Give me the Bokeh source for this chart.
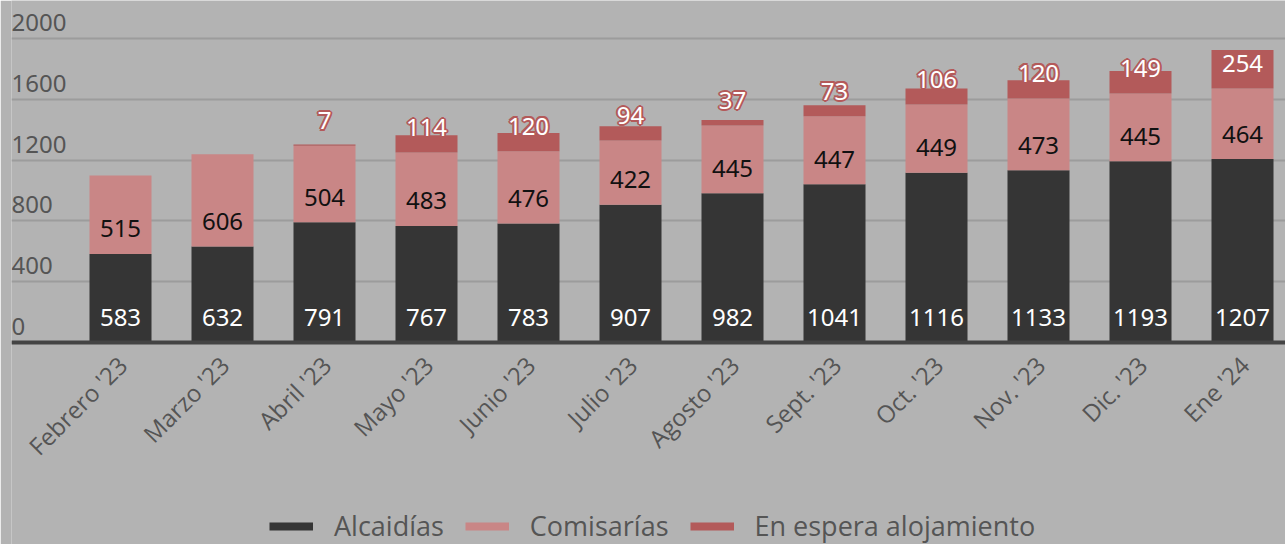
import math
from bokeh.plotting import figure
from bokeh.models import ColumnDataSource, Range1d, FixedTicker, Legend, LegendItem, Span
from bokeh.core.properties import value
from bokeh.embed import file_html
from bokeh.resources import INLINE

months = ["Febrero '23", "Marzo '23", "Abril '23", "Mayo '23", "Junio '23", "Julio '23",
          "Agosto '23", "Sept. '23", "Oct. '23", "Nov. '23", "Dic. '23", "Ene '24"]
alcaidias = [583, 632, 791, 767, 783, 907, 982, 1041, 1116, 1133, 1193, 1207]
comisarias = [515, 606, 504, 483, 476, 422, 445, 447, 449, 473, 445, 464]
espera = [0, 0, 7, 114, 120, 94, 37, 73, 106, 120, 149, 254]
y_ticks = [0, 400, 800, 1200, 1600, 2000]
y_tick_labels = ["0", "400", "800", "1200", "1600", "2000"]
series_names = ["Alcaidías", "Comisarías", "En espera alojamiento"]

BG = "#b3b3b3"
DARK = "#353535"
PINK = "#c98686"
RED = "#b35a5a"
GRID = "#9c9c9c"
TXT = "#555555"

xs = list(range(len(months)))
com_bottom = list(alcaidias)
com_top = [a + c for a, c in zip(alcaidias, comisarias)]
esp_top = [t + e for t, e in zip(com_top, espera)]

src = ColumnDataSource(dict(
    x=xs, alc=alcaidias, com_bottom=com_bottom, com_top=com_top, esp_top=esp_top,
    alc_lbl=[str(v) for v in alcaidias], com_lbl=[str(v) for v in comisarias],
    month=months,
))
esp_idx = [i for i, e in enumerate(espera) if e > 0]
esp_src = ColumnDataSource(dict(
    x=[xs[i] for i in esp_idx], y=[com_top[i] for i in esp_idx],
    lbl=[str(espera[i]) for i in esp_idx],
))
# red halo around the "en espera" labels
halo = [(-2, 0), (2, 0), (0, -2), (0, 2), (-1.4, -1.4), (1.4, -1.4), (-1.4, 1.4), (1.4, 1.4)]
halo_src = ColumnDataSource(dict(
    x=[xs[i] for i in esp_idx for _ in halo],
    y=[com_top[i] for i in esp_idx for _ in halo],
    lbl=[str(espera[i]) for i in esp_idx for _ in halo],
    dx=[d[0] for _ in esp_idx for d in halo],
    dy=[d[1] - 25 for _ in esp_idx for d in halo],
))

x0 = -1.0686
p = figure(frame_width=1274, frame_height=544,
           x_range=Range1d(x0, 11.4216), y_range=Range1d(-1328.95, 2250),
           output_backend="svg", toolbar_location=None,
           x_axis_location=None, y_axis_location=None,
           min_border_left=11, min_border_right=0, min_border_top=0, min_border_bottom=0)
p.background_fill_color = BG
p.border_fill_color = BG
p.outline_line_color = None
for g in p.xgrid:
    g.grid_line_color = None
for g in p.ygrid:
    g.ticker = FixedTicker(ticks=y_ticks)
    g.grid_line_color = GRID
    g.grid_line_width = 2

w = 0.608
p.vbar(x="x", width=w, bottom=0, top="alc", source=src, fill_color=DARK, line_color=None)
p.vbar(x="x", width=w, bottom="com_bottom", top="com_top", source=src, fill_color=PINK, line_color=None)
p.vbar(x="x", width=w, bottom="com_top", top="esp_top", source=src, fill_color=RED, line_color=None)

# baseline (category axis line)
p.add_layout(Span(location=0, dimension="width", line_color="#444444", line_width=4))

font = value("Noto Sans")
p.text(x="x", y=0, text="alc_lbl", source=src, y_offset=-25, text_align="center",
       text_baseline="middle", text_color="white", text_font=font, text_font_size="24px")
p.text(x="x", y="com_bottom", text="com_lbl", source=src, y_offset=-25, text_align="center",
       text_baseline="middle", text_color="#111111", text_font=font, text_font_size="24px")
p.text(x="x", y="y", text="lbl", source=halo_src, x_offset="dx", y_offset="dy",
       text_align="center", text_baseline="middle", text_color=RED, text_font=font,
       text_font_size="24px")
p.text(x="x", y="y", text="lbl", source=esp_src, y_offset=-25, text_align="center",
       text_baseline="middle", text_color="white", text_font=font, text_font_size="24px")

# y tick labels (sit above their grid lines)
ytl_src = ColumnDataSource(dict(x=[x0] * len(y_ticks), y=y_ticks, t=y_tick_labels))
p.text(x="x", y="y", text="t", source=ytl_src, y_offset=-16, text_align="left",
       text_baseline="middle", text_color=TXT, text_font=font, text_font_size="24px")

# category tick labels, rotated 45 degrees under the baseline
p.text(x="x", y=0, text="month", source=src, angle=math.pi / 4, x_offset=2, y_offset=18,
       text_align="right", text_baseline="middle", text_color=TXT,
       text_font=value("Open Sans"), text_font_size="24px")

# hidden renderers used only as legend swatches (thick horizontal strokes)
proxies = []
for c, ys in ((DARK, alcaidias), (PINK, com_top), (RED, esp_top)):
    proxies.append(p.line(x=xs, y=ys, line_color=c, line_width=8, line_cap="butt", visible=False))
legend = Legend(items=[LegendItem(label=n, renderers=[r]) for n, r in zip(series_names, proxies)],
                orientation="horizontal", location=(258, 0),
                glyph_width=44, glyph_height=36, label_standoff=21, spacing=21,
                padding=0, margin=0, background_fill_alpha=0, border_line_color=None,
                label_text_font="Open Sans", label_text_font_size="27px",
                label_text_color=TXT)
p.add_layout(legend, "center")

open("out.html", "w").write(file_html(p, INLINE))
